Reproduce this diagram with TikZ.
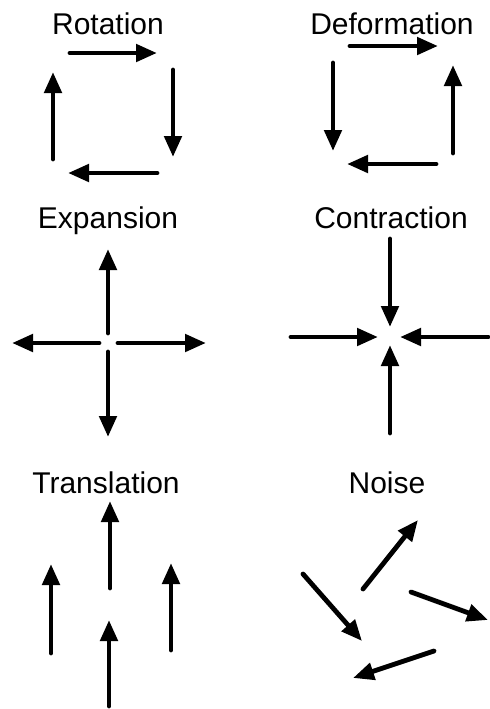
\documentclass[tikz,border=0pt]{standalone}
\usepackage{fontspec}
\setmainfont{Liberation Sans}
\usetikzlibrary{arrows.meta, positioning}

\begin{document}
\begin{tikzpicture}[x=0.5pt, y=-0.5pt,
        panel_label/.style={font=\fontsize{15}{18}\selectfont, anchor=base},
        flow/.style={line width=2.4pt, line cap=round, -{Triangle[length=10.5pt, width=8.5pt]}}]

        % Fix the page to the reference size
        \useasboundingbox (0,0) rectangle (490,709);

        % Panel titles
        \node[panel_label] (rotation) at (108,34) {Rotation};
        \node[panel_label] (deformation) at (392,34) {Deformation};
        \node[panel_label] (expansion) at (108,228) {Expansion};
        \node[panel_label] (contraction) at (391,228) {Contraction};
        \node[panel_label] (translation) at (106,493) {Translation};
        \node[panel_label] (noise) at (387,493) {Noise};

        % Rotation: clockwise loop
        \draw[flow] (70,53) -- (157,53);
        \draw[flow] (173,70) -- (173,157);
        \draw[flow] (157,173) -- (68,173);
        \draw[flow] (53,159) -- (53,72);

        % Deformation: stretch one way, squeeze the other
        \draw[flow] (350,46) -- (438,46);
        \draw[flow] (333,63) -- (333,151);
        \draw[flow] (436,164) -- (347,164);
        \draw[flow] (453,153) -- (453,65);

        % Expansion: arrows leave the centre
        \draw[flow] (108,333) -- (108,249);
        \draw[flow] (108,352) -- (108,437);
        \draw[flow] (99,343) -- (12,343);
        \draw[flow] (118,343) -- (206,343);

        % Contraction: arrows meet at the centre
        \draw[flow] (390,239) -- (390,327);
        \draw[flow] (390,433) -- (390,345);
        \draw[flow] (291,337) -- (378,337);
        \draw[flow] (488,337) -- (400,337);

        % Translation: all arrows point the same way
        \draw[flow] (110,588) -- (110,501);
        \draw[flow] (51,653) -- (51,564);
        \draw[flow] (171,650) -- (171,563);
        \draw[flow] (109,706) -- (109,620);

        % Noise: random directions
        \draw[flow] (363,589) -- (418,520);
        \draw[flow] (303,574) -- (362,641);
        \draw[flow] (411,592) -- (488,620);
        \draw[flow] (434,651) -- (353,678);
    \end{tikzpicture}
\end{document}
